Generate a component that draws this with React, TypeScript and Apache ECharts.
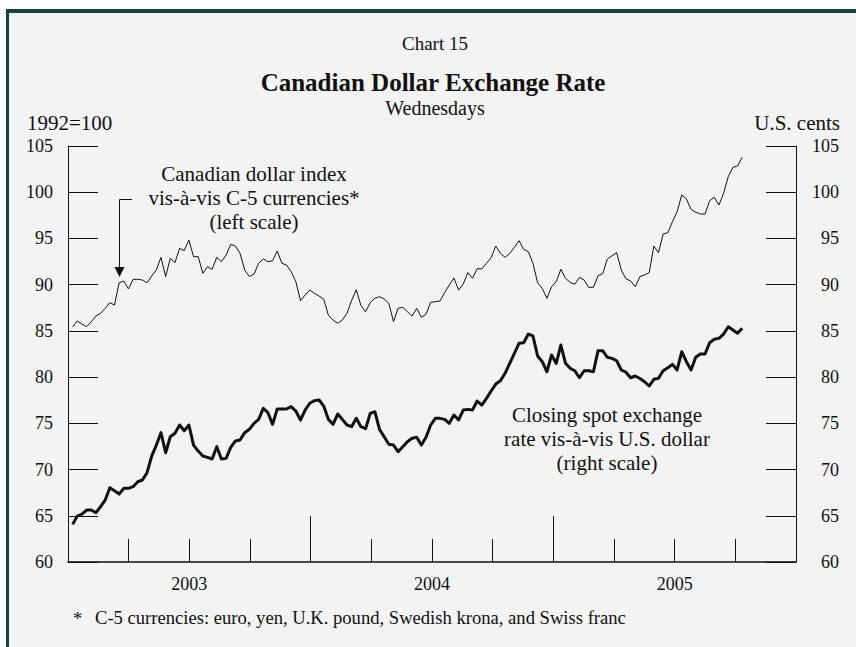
import React, { useEffect, useRef } from "react";
import * as echarts from "echarts";

// Weekly (Wednesday) observations, first one on 8 January 2003
const FIRST_WEDNESDAY = { year: 2003, month: 0, day: 8 };

// Canadian dollar index vis-à-vis C-5 currencies (1992=100), left scale
const c5Index = [
  85.45, 86.07, 85.74, 85.45, 86.0, 86.6, 86.9, 87.44, 88.05, 87.8,
  90.2, 90.4, 89.53, 90.58, 90.58, 90.5, 90.2, 90.94, 91.6, 92.96,
  90.87, 92.85, 92.38, 93.93, 93.68, 94.83, 93.03, 93.03, 91.23, 91.95,
  91.66, 92.96, 92.48, 93.2, 94.36, 94.18, 93.39, 91.59, 90.87, 91.15,
  92.31, 92.78, 92.48, 92.6, 93.64, 92.31, 92.13, 91.4, 90.32, 88.27,
  88.88, 89.42, 89.06, 88.77, 88.42, 86.7, 86.18, 85.82, 86.18, 86.9,
  88.3, 89.45, 87.75, 87.07, 88.05, 88.52, 88.7, 88.45, 87.98, 86.0,
  87.44, 87.55, 87.07, 86.6, 87.44, 86.47, 86.8, 88.09, 88.16, 88.23,
  89.13, 89.96, 90.72, 89.42, 90.07, 91.3, 90.69, 91.73, 91.7, 92.31,
  92.92, 94.18, 93.39, 92.96, 93.39, 94.04, 94.76, 93.82, 93.57, 92.31,
  90.21, 89.6, 88.52, 89.78, 90.32, 91.66, 90.69, 90.25, 90.04, 90.79,
  90.5, 89.71, 89.71, 90.97, 91.19, 92.78, 93.13, 93.46, 91.59, 90.64,
  90.4, 89.78, 90.87, 91.05, 91.3, 94.18, 93.46, 95.48, 95.62, 96.81,
  97.89, 99.7, 99.27, 98.15, 97.83, 97.64, 97.64, 99.08, 99.45, 98.62,
  99.88, 101.68, 102.69, 102.84, 103.78,
];

// Closing spot exchange rate vis-à-vis U.S. dollar (U.S. cents), right scale
const usdRate = [
  64.07, 64.97, 65.19, 65.62, 65.62, 65.33, 65.98, 66.7, 68.04, 67.71,
  67.35, 67.97, 67.97, 68.15, 68.68, 68.87, 69.66, 71.46, 72.65, 73.99,
  71.82, 73.55, 73.92, 74.82, 74.2, 74.82, 72.65, 72.0, 71.46, 71.32,
  71.14, 72.47, 71.14, 71.21, 72.4, 73.09, 73.2, 73.99, 74.35, 75.0,
  75.43, 76.62, 76.15, 74.89, 76.55, 76.55, 76.55, 76.8, 76.33, 75.36,
  76.44, 77.17, 77.45, 77.52, 76.87, 75.43, 74.89, 76.0, 75.43, 74.82,
  74.64, 75.54, 74.64, 74.42, 76.08, 76.26, 74.35, 73.55, 72.73, 72.65,
  71.93, 72.47, 73.01, 73.38, 73.49, 72.65, 73.49, 74.82, 75.54, 75.54,
  75.43, 75.0, 75.9, 75.36, 76.44, 76.51, 76.44, 77.41, 76.98, 77.7,
  78.5, 79.25, 79.61, 80.41, 81.49, 82.57, 83.66, 83.72, 84.66, 84.45,
  82.28, 81.67, 80.58, 82.39, 81.49, 83.47, 81.49, 80.95, 80.69, 79.93,
  80.69, 80.69, 80.58, 82.86, 82.86, 82.14, 82.03, 81.77, 80.77, 80.53,
  79.93, 80.12, 79.85, 79.5, 79.04, 79.76, 79.87, 80.69, 81.02, 81.38,
  80.77, 82.75, 81.67, 80.77, 82.14, 82.5, 82.5, 83.72, 84.09, 84.2,
  84.66, 85.45, 85.1, 84.74, 85.28,
];

const quarters = [
  "2003Q1", "2003Q2", "2003Q3", "2003Q4",
  "2004Q1", "2004Q2", "2004Q3", "2004Q4",
  "2005Q1", "2005Q2", "2005Q3", "2005Q4",
];
const years = ["2003", "2004", "2005"];

const Y_MIN = 60;
const Y_MAX = 105;
const Y_STEP = 5;

const SERIF = "'Liberation Serif', 'Times New Roman', serif";
const INK = "#111111";

function weekly(values: number[]) {
  return values.map((v, i) => [
    new Date(FIRST_WEDNESDAY.year, FIRST_WEDNESDAY.month, FIRST_WEDNESDAY.day + 7 * i).getTime(),
    v,
  ]);
}

export default function App() {
  const ref = useRef<HTMLDivElement>(null);

  useEffect(() => {
    if (!ref.current) return;
    const chart = echarts.init(ref.current, null, { renderer: "svg" });

    const yAxisBase = {
      type: "value",
      min: Y_MIN,
      max: Y_MAX,
      interval: Y_STEP,
      axisLine: { show: true, lineStyle: { color: INK, width: 1 } },
      axisTick: { show: true, inside: true, length: 30, lineStyle: { color: INK, width: 1 } },
      splitLine: { show: false },
    };

    const text = (x: number, y: number, t: string, size: number, align = "center", bold = false) => ({
      type: "text",
      x,
      y,
      style: {
        text: t,
        fontFamily: SERIF,
        fontSize: size,
        fontWeight: bold ? "bold" : "normal",
        fill: INK,
        textAlign: align,
        textVerticalAlign: "middle",
      },
    });

    const option = {
      animation: false,
      backgroundColor: "transparent",
      grid: { left: 68, right: 60, top: 146, bottom: 85, containLabel: false },
      xAxis: [
        {
          type: "time",
          min: new Date(2003, 0, 1).getTime(),
          max: new Date(2006, 0, 1).getTime(),
          show: false,
        },
        {
          type: "category",
          data: quarters,
          position: "bottom",
          boundaryGap: true,
          axisLine: { show: true, lineStyle: { color: INK, width: 1.5 } },
          axisTick: { show: true, inside: true, length: 23, interval: 0, lineStyle: { color: INK, width: 1 } },
          axisLabel: { show: false },
          splitLine: { show: false },
        },
        {
          type: "category",
          data: years,
          position: "bottom",
          boundaryGap: true,
          axisLine: { show: false },
          axisTick: { show: true, inside: true, length: 46, interval: 0, lineStyle: { color: INK, width: 1 } },
          axisLabel: { show: true, margin: 13, fontFamily: SERIF, fontSize: 18, color: INK },
          splitLine: { show: false },
        },
      ],
      yAxis: [
        {
          ...yAxisBase,
          position: "left",
          axisLabel: { margin: 15, fontFamily: SERIF, fontSize: 18, color: INK },
        },
        {
          ...yAxisBase,
          position: "right",
          axisLabel: { margin: 43, align: "right", fontFamily: SERIF, fontSize: 18, color: INK },
        },
      ],
      series: [
        {
          name: "Canadian dollar index vis-à-vis C-5 currencies",
          type: "line",
          xAxisIndex: 0,
          yAxisIndex: 0,
          data: weekly(c5Index),
          showSymbol: false,
          symbol: "none",
          lineStyle: { color: INK, width: 1 },
        },
        {
          name: "Closing spot exchange rate vis-à-vis U.S. dollar",
          type: "line",
          xAxisIndex: 0,
          yAxisIndex: 1,
          data: weekly(usdRate),
          showSymbol: false,
          symbol: "none",
          lineStyle: { color: INK, width: 3, join: "round" },
        },
      ],
      graphic: [
        text(435, 43, "Chart 15", 19),
        text(433, 82, "Canadian Dollar Exchange Rate", 25, "center", true),
        text(435, 108, "Wednesdays", 20),
        text(27, 123, "1992=100", 21, "left"),
        text(840, 123, "U.S. cents", 21, "right"),
        text(254, 174, "Canadian dollar index", 21),
        text(254, 198, "vis-à-vis C-5 currencies*", 21),
        text(254, 222, "(left scale)", 21),
        text(607, 415, "Closing spot exchange", 21),
        text(607, 439, "rate vis-à-vis U.S. dollar", 21),
        text(607, 463, "(right scale)", 21),
        {
          type: "polyline",
          shape: { points: [[132, 199.5], [119.5, 199.5], [119.5, 268]] },
          style: { stroke: INK, lineWidth: 1, fill: "none" },
        },
        {
          type: "polygon",
          shape: { points: [[114.5, 267], [124.5, 267], [119.5, 277]] },
          style: { fill: INK, stroke: "none" },
        },
        text(73, 618, "*", 18.6, "left"),
        text(95, 617, "C-5 currencies: euro, yen, U.K. pound, Swedish krona, and Swiss franc", 18.6, "left"),
      ],
    };

    chart.setOption(option as any);
    return () => chart.dispose();
  }, []);

  return (
    <div
      style={{
        position: "fixed",
        left: 0,
        top: 0,
        width: 856,
        height: 647,
        background: "#ffffff",
        overflow: "hidden",
      }}
    >
      <div
        style={{
          position: "absolute",
          left: 6,
          top: 9,
          right: 0,
          bottom: 0,
          borderTop: "4px solid #1c403c",
          borderLeft: "3px solid #1c403c",
          background: "#f2f3f2",
        }}
      />
      <div ref={ref} style={{ position: "absolute", left: 0, top: 0, width: 856, height: 647 }} />
    </div>
  );
}
